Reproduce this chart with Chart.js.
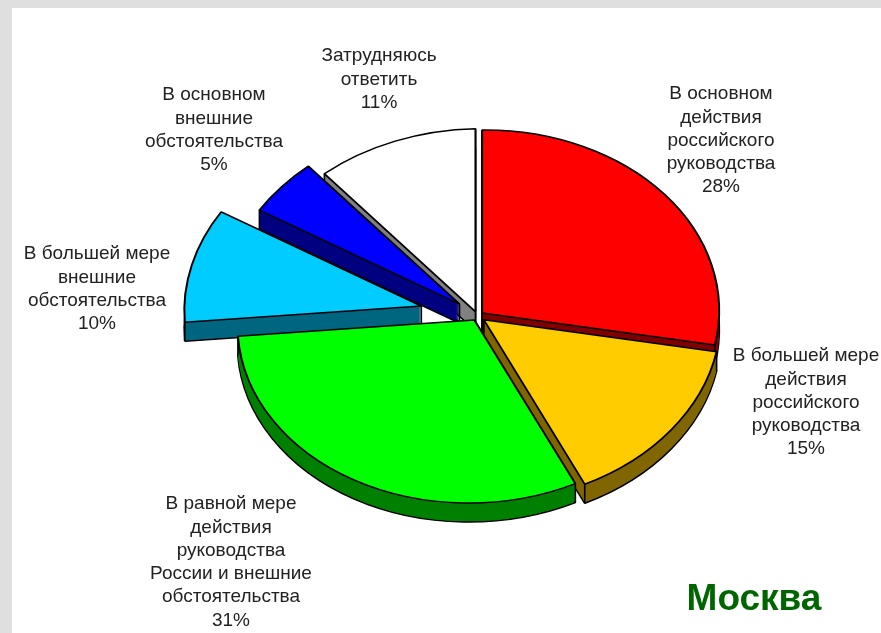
<!DOCTYPE html>
<html lang="ru">
<head>
    <meta charset="UTF-8">
    <title>Москва</title>
    <script src="https://cdn.jsdelivr.net/npm/chart.js"></script>
    <style>
        html, body { margin: 0; padding: 0; background: #dfdfdf; }
        canvas { display: block; }
    </style>
</head>
<body>
    <canvas id="pie" width="881" height="633"></canvas>

    <script>
// data
const title = 'Москва';
const categories = [
    ['В основном', 'действия', 'российского', 'руководства'],
    ['В большей мере', 'действия', 'российского', 'руководства'],
    ['В равной мере', 'действия', 'руководства', 'России и внешние', 'обстоятельства'],
    ['В большей мере', 'внешние', 'обстоятельства'],
    ['В основном', 'внешние', 'обстоятельства'],
    ['Затрудняюсь', 'ответить']
];
const shares = [28, 15, 31, 10, 5, 11];

// look
const topColors = ['#ff0000', '#ffcc00', '#00ff00', '#00ccff', '#0000ff', '#ffffff'];
const wallColors = ['#800000', '#806600', '#008000', '#006680', '#000080', '#808080'];
const explode = [6, 8, 6, 58, 24, 6];       // how far each slice is pulled out
const labelAt = [[721, 94], [806, 356], [231, 504], [97, 254], [214, 95], [379, 56]]; // centre x, first line y
const drawOrder = [5, 4, 3, 0, 1, 2];       // back to front
const squash = 0.772;
const shear = [-0.01, -0.01, -0.02, -0.02, -0.02, -0.02]; // the original leans a little to the left
const depth = 19;

function withOptions(arc, changes, fn) {
    const saved = arc.options;
    arc.options = { ...saved, ...changes };
    fn();
    arc.options = saved;
}

// fake 3d: every slice is drawn flattened, with its wall underneath
const pie3d = {
    id: 'pie3d',
    beforeDraw(chart) {
        const ctx = chart.ctx;
        ctx.save();
        ctx.fillStyle = '#ffffff';
        ctx.fillRect(12, 8, chart.width - 12, chart.height - 8);
        ctx.restore();
    },
    beforeDatasetDraw(chart, args) {
        const ctx = chart.ctx;
        const arcs = args.meta.data;

        drawOrder.forEach(i => {
            const arc = arcs[i];
            const mid = (arc.startAngle + arc.endAngle) / 2;
            const ox = Math.cos(mid) * explode[i];
            const oy = Math.sin(mid) * explode[i];

            const paint = (dy) => {
                ctx.save();
                ctx.translate(arc.x, arc.y + dy);
                ctx.transform(1, shear[i], 0, squash, 0, 0);
                ctx.translate(ox - arc.x, oy - arc.y);
                arc.draw(ctx);
                ctx.restore();
            };

            // wall
            withOptions(arc, { backgroundColor: wallColors[i] }, () => paint(depth));
            withOptions(arc, { backgroundColor: wallColors[i], borderWidth: 0 }, () => {
                for (let d = depth - 1; d > 0; d--) paint(d);
            });

            // upright edges
            ctx.save();
            ctx.strokeStyle = '#000';
            ctx.lineWidth = 1.6;
            const r = arc.outerRadius;
            [[ox, oy],
             [ox + Math.cos(arc.startAngle) * r, oy + Math.sin(arc.startAngle) * r],
             [ox + Math.cos(arc.endAngle) * r, oy + Math.sin(arc.endAngle) * r]].forEach(p => {
                const x = arc.x + p[0];
                const y = arc.y + p[1] * squash + p[0] * shear[i];
                ctx.beginPath();
                ctx.moveTo(x, y);
                ctx.lineTo(x, y + depth);
                ctx.stroke();
            });
            ctx.restore();

            // top
            paint(0);
        });
        return false;
    },
    afterDraw(chart) {
        const ctx = chart.ctx;
        ctx.save();
        ctx.textAlign = 'center';
        ctx.textBaseline = 'middle';
        ctx.fillStyle = '#222222';
        ctx.font = '19px "Liberation Sans", Arial, sans-serif';
        categories.forEach((lines, i) => {
            const all = lines.concat(shares[i] + '%');
            all.forEach((line, n) => {
                ctx.fillText(line, labelAt[i][0], labelAt[i][1] + n * 23.3);
            });
        });
        ctx.fillStyle = '#006600';
        ctx.font = 'bold 37px "Liberation Sans", Arial, sans-serif';
        ctx.fillText(title, 754, 600);
        ctx.restore();
    }
};

new Chart(document.getElementById('pie'), {
    type: 'pie',
    data: {
        labels: categories.map(c => c.join(' ')),
        datasets: [{
            data: shares,
            backgroundColor: topColors,
            borderColor: '#000000',
            borderWidth: 2
        }]
    },
    options: {
        responsive: false,
        animation: false,
        events: [],
        radius: 237,
        layout: { padding: { left: 74, bottom: 1 } },
        plugins: {
            legend: { display: false },
            tooltip: { enabled: false }
        }
    },
    plugins: [pie3d]
});
    </script>
</body>
</html>
